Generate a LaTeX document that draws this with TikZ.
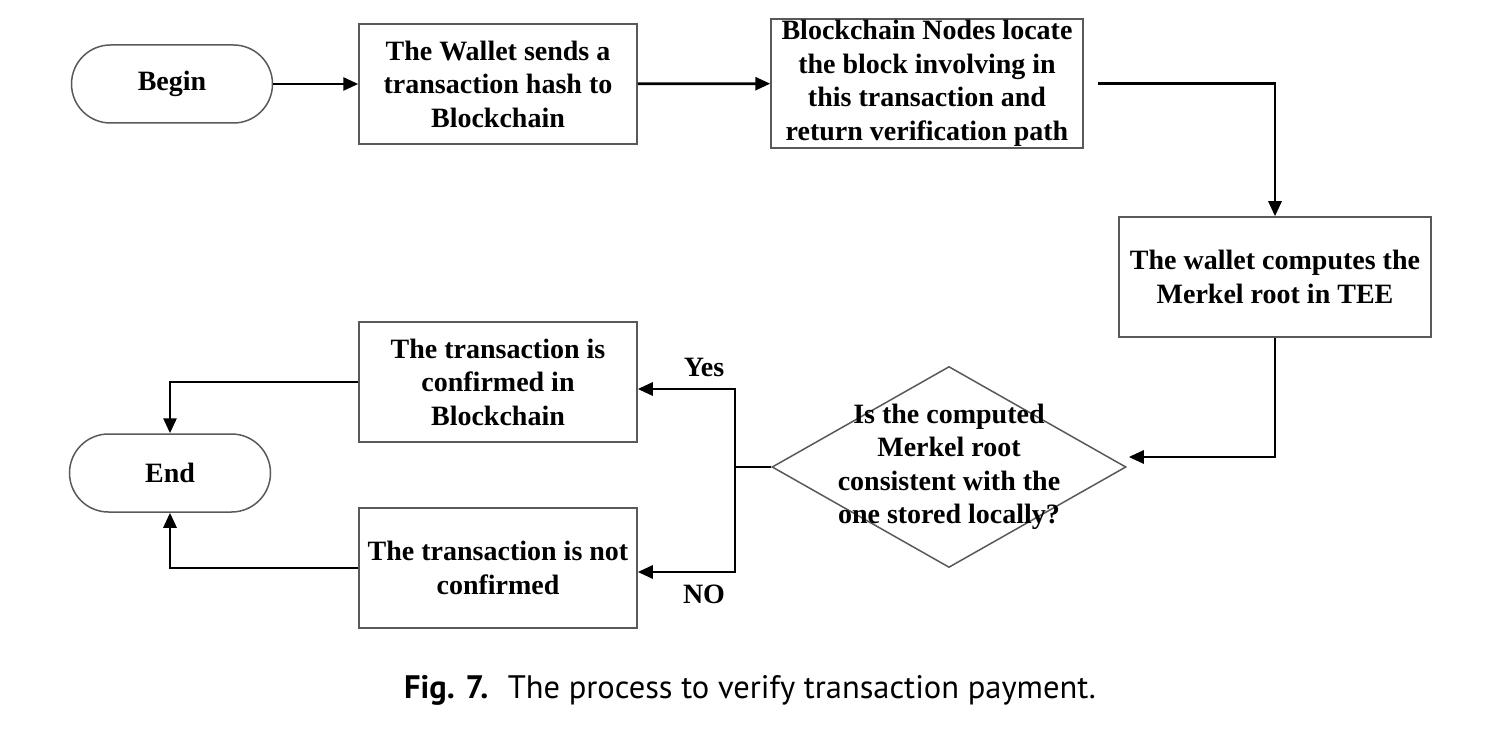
\documentclass[tikz,border=0pt]{standalone}
\usepackage{fontspec}
\setmainfont{Liberation Serif}
\newfontfamily\capfont{PT Sans}
\usetikzlibrary{arrows.meta,shapes.geometric}
\begin{document}
\begin{tikzpicture}[x=1pt,y=-1pt,
  txt/.style={font=\fontsize{28}{33.5}\selectfont\bfseries},
  box/.style={draw=black!65,line width=1.5pt,minimum width=#1,align=center,inner sep=0pt,txt},
  term/.style={draw=black!65,line width=1.5pt,rounded corners=39pt,minimum width=201pt,minimum height=78pt,txt},
  conn/.style={line width=2.8pt,line cap=butt,-{Triangle[length=15pt,width=13pt]}},
  plain/.style={line width=2.8pt},
  lbl/.style={font=\fontsize{28}{30}\selectfont\bfseries}]
\useasboundingbox (0,0) rectangle (1486,730);
\node[term] (begin) at (172,84) {Begin};
\node[box=278pt,minimum height=120pt] (send) at (498,84) {The Wallet sends a\\transaction hash to\\Blockchain};
\node[box=312pt,minimum height=129pt] (locate) at (927,83.5) {Blockchain Nodes locate\\the block involving in\\this transaction and\\return verification path};
\node[box=312pt,minimum height=120pt] (compute) at (1275,277) {The wallet computes the\\Merkel root in TEE};
\node[draw=black!65,line width=1.5pt,diamond,aspect=1.76,minimum width=354pt,minimum height=201pt,inner sep=0pt] (dec) at (949,467) {};
\node[txt,align=center] (dect) at (949,467) {Is the computed\\Merkel root\\consistent with the\\one stored locally?};
\node[box=278pt,minimum height=120pt] (yes) at (498,382) {The transaction is\\confirmed in\\Blockchain};
\node[box=278pt,minimum height=120pt] (no) at (498,568) {The transaction is not\\confirmed};
\node[term] (end) at (170,473) {End};
\node[lbl] (ylbl) at (704,367) {Yes};
\node[lbl] (nlbl) at (704,594) {NO};
\coordinate (split) at (735,467);
\draw[conn] (begin) -- (send);
\draw[conn] (send) -- (locate);
\draw[conn] ([xshift=14pt]locate.east) -| (compute.north);
\draw[conn] (compute.south) |- ([xshift=2pt,yshift=10pt]dec.east);
\draw[plain] (dec.west) -- (split);
\draw[conn] (split) |- (yes.east |- 0,389);
\draw[conn] (split) |- (no.east |- 0,572);
\draw[conn] (yes.west) -| (end.north);
\draw[conn] (no.west) -| (end.south);
\node[font=\capfont\fontsize{32.5}{38}\selectfont] (cap) at (750,690) {\textbf{Fig. 7.}\hspace{0.6em}The process to verify transaction payment.};
\end{tikzpicture}
\end{document}
